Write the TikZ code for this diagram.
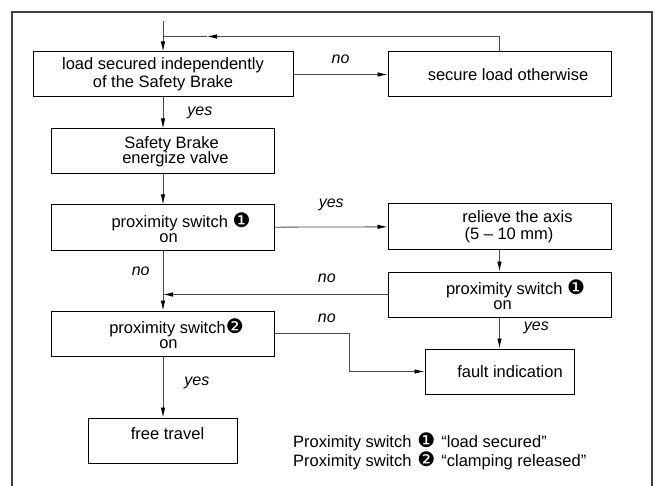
\documentclass[tikz,border=0pt]{standalone}
\usepackage{fontspec}
\setmainfont{Liberation Sans}
\newfontfamily\dingfont{DejaVu Sans}
\usetikzlibrary{arrows.meta,positioning}
\definecolor{wire}{HTML}{4A4A4A}
\definecolor{framegray}{HTML}{404040}
\newcommand{\swone}{{\dingfont\fontsize{20pt}{15pt}\selectfont ❶}}
\newcommand{\swtwo}{{\dingfont\fontsize{20pt}{15pt}\selectfont ❷}}

\begin{document}
\begin{tikzpicture}[x=1pt,y=1pt,font=\fontsize{16.5pt}{15pt}\selectfont,
    box/.style={draw,line width=1pt,minimum height=45pt,align=center,inner sep=2pt},
    wide/.style={box,minimum width=260pt},
    mid/.style={box,minimum width=223pt},
    small/.style={box,minimum width=149pt},
    wire/.style={draw=wire,line width=0.8pt},
    arr/.style={wire,-{Latex[length=10pt,width=4.5pt,color=black]}},
    ans/.style={font=\fontsize{16pt}{15pt}\selectfont\itshape,inner sep=2pt}]
    \clip (0,0) rectangle (660,-486);
    \draw[framegray,line width=1.2pt] (12,-500) -- (12,-12) -- (652,-12) -- (652,-500);
    % left column
    \node[wide] (load) at (163,-74.5) {load secured independently\\[2pt]of the Safety Brake};
    \node[mid,below=31pt of load] (valve) {\hspace*{17pt}Safety Brake\\[-1pt]\hspace*{25pt}energize valve};
    \node[mid,below=30pt of valve] (sw1) {\hspace*{36pt}proximity switch \swone\\\hspace*{11pt}on};
    \node[mid,below=60pt of sw1] (sw2) {\hspace*{27pt}proximity switch\swtwo\\\hspace*{11pt}on};
    \node[small,below=61pt of sw2,text depth=13pt] (free) {\hspace*{9pt}free travel};
    % right column
    \node[mid,right=94pt of load] (other) {\hspace*{17pt}secure load otherwise};
    \node[mid,below=106pt of other] (relieve) {\hspace*{36pt}relieve the axis\\[1.5pt]\hspace*{19pt}(5 -- 10 mm)};
    \node[mid,below=22pt of relieve] (sw1b) {\hspace*{32pt}proximity switch \swone\\\hspace*{6pt}on};
    \node[small,below=31pt of sw1b] (fault) {\hspace*{21pt}fault indication};
    \node[anchor=west,inner sep=0pt] (legend) at (293,-452) {\begin{tabular}{@{}l@{\hspace{6pt}}c@{\hspace{6pt}}l@{}}
        Proximity switch & \swone & “load secured”\\
        Proximity switch & \swtwo & “clamping released”
      \end{tabular}};
    % connectors
    \coordinate (entry) at ([yshift=30pt]load.north);
    \coordinate (back) at ([yshift=15pt]load.north);
    \coordinate (backtip) at ([xshift=44pt]back);
    \draw[arr] (entry) -- (load);
    \draw[arr] (other.north) |- (backtip);
    \draw[wire] (backtip) -- (back);
    \draw[arr] (load) -- node[ans,above=8pt] {no} (other);
    \draw[arr] (load) -- node[ans,right=22pt] {yes} (valve);
    \draw[arr] (valve) -- (sw1);
    \draw[arr] (sw1) -- node[ans,above=14pt] {yes} (relieve);
    \draw[arr] (relieve) -- (sw1b);
    \draw[arr] (sw1b) -- node[ans,pos=0.32,right=22pt] {yes} (fault);
    \draw[arr] (sw1b.west) -- node[ans,pos=0.27,above=9pt] {no} (sw1b.west -| sw1.south);
    \draw[arr] (sw1) -- node[ans,pos=0.35,left=11pt] {no} (sw2);
    \draw[arr] (sw2.east) -- node[ans,pos=0.7,above=8pt] {no} ++(74pt,0) |- (fault.west);
    \draw[arr] (sw2) -- node[ans,pos=0.43,right=19pt] {yes} (free);
\end{tikzpicture}
\end{document}
